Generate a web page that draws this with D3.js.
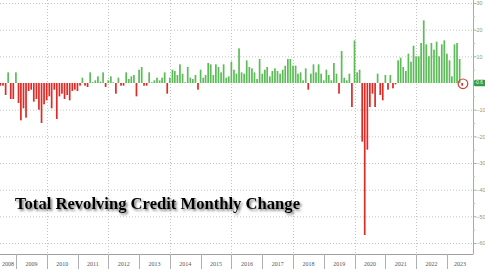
<!DOCTYPE html>
<html>
<head>
<meta charset="utf-8">
<script src="https://cdn.jsdelivr.net/npm/d3@7"></script>
<style>
html,body{margin:0;padding:0;background:#fff;}
svg{display:block;}
</style>
</head>
<body>
<svg id="chart" width="485" height="269"></svg>
<script>
// Monthly change in total revolving credit ($B), Jun 2008 - Jun 2023
const firstMonth = [2008, 5]; // June 2008 (month index 5)
const v2008 = [-1, -1, -4.5, 4, -6, -6, 4];
const v2009 = [-7.5, -14, -9.5, -13, -3, -2.5, -7, -6, -10, -15, -8, -6.5];
const v2010 = [-5, -9.5, -2.5, -13.5, -5, -4, -6, -4.5, -6.5, -3, -2.5, -3];
const v2011 = [-1, 2, -1, -1.5, 4, 0.3, 1, 2.5, 0.5, 4, -1.5, 1];
const v2012 = [2.5, 0.3, -4, 2, -1, -1, 4, 1.5, 2.5, 3, -5, 5];
const v2013 = [6, -1, -1, 4, 0.3, 1, 2, 1, 2, 4, -4, 2];
const v2014 = [5, 4.5, 3, 7, 3.5, 0.3, 6, 2, 1.5, 3, -2.5, 5];
const v2015 = [2, 3, 7.5, 7, 3, 7, 6, 4, 7, 2, 2.5, 8];
const v2016 = [5, 3.5, 13, 4, 3.5, 8.5, 6, 5.5, 4, 1.5, 9, 3.5];
const v2017 = [5, 6, 2.5, 4.5, 5.5, 4.5, 3.5, 5, 6.5, 9, 9, 6.5];
const v2018 = [6.5, 3.5, 4, 1, 5.5, -2.5, 3.5, 7, 4, 7, 3.5, 1];
const v2019 = [5, 3, 1, 7.5, 3.5, -4, 12, 2, 1, 3.5, -9, 16];
const v2020 = [4, 5, -22, -57, -25, -9, -4, -9, 3.5, -4.5, -6.5, 3];
const v2021 = [-2.5, 3, -2, -0.5, 8.5, 9.5, 6, 4.5, 11, 8, 14, 10];
const v2022 = [10, 15, 23.5, 14.5, 10, 15, 12.5, 15.5, 10, 14.5, 16, 11];
const v2023 = [8.5, 2.5, 14.5, 15, 9, -1];
const yearLabels = ["2008","2009","2010","2011","2012","2013","2014","2015","2016","2017","2018","2019","2020","2021","2022","2023"];
const yTicks = [30, 20, 10, -10, -20, -30, -40, -50, -60];
const lastLabel = "-0.6";
const title = "Total Revolving Credit Monthly Change";

const values = [].concat(v2008, v2009, v2010, v2011, v2012, v2013, v2014, v2015,
  v2016, v2017, v2018, v2019, v2020, v2021, v2022, v2023);
// month-end dates
const data = values.map((v, i) => ({
  date: new Date(firstMonth[0], firstMonth[1] + i + 1, 0),
  value: v
}));

const W = 485, H = 269;
const plotRight = 473, axisY = 254;
const svg = d3.select("#chart");

const x = d3.scaleTime()
  .domain([new Date(2009, 0, 1), new Date(2023, 0, 1)])
  .range([16, 447]);
const y = d3.scaleLinear().domain([-60, 30]).range([243, 3]);

const defs = svg.append("defs");
const f = defs.append("filter").attr("id", "shadow")
  .attr("x", "-5%").attr("y", "-30%").attr("width", "110%").attr("height", "160%");
f.append("feDropShadow").attr("dx", 1.6).attr("dy", 1.8)
  .attr("stdDeviation", 1.1).attr("flood-color", "#444").attr("flood-opacity", 0.75);

// horizontal grid
svg.append("g").selectAll("line").data(yTicks).join("line")
  .attr("x1", 0).attr("x2", plotRight)
  .attr("y1", d => y(d) + 0.5).attr("y2", d => y(d) + 0.5)
  .attr("stroke", "#c4c4c4").attr("stroke-width", 1)
  .attr("stroke-dasharray", "1,2");

// vertical grid (every other year)
const gridYears = d3.range(2010, 2023, 2);
svg.append("g").selectAll("line").data(gridYears).join("line")
  .attr("x1", d => Math.round(x(new Date(d, 0, 1))) + 0.5)
  .attr("x2", d => Math.round(x(new Date(d, 0, 1))) + 0.5)
  .attr("y1", 0).attr("y2", axisY)
  .attr("stroke", "#c4c4c4").attr("stroke-width", 1)
  .attr("stroke-dasharray", "1,2");

// bars
const bw = 1.7;
svg.append("g").selectAll("rect").data(data).join("rect")
  .attr("x", d => x(d.date) - bw / 2)
  .attr("width", bw)
  .attr("y", d => Math.min(y(d.value), y(0)))
  .attr("height", d => Math.max(0.6, Math.abs(y(d.value) - y(0))))
  .attr("fill", d => d.value >= 0 ? "#5cbc58" : "#df2a26");

// highlight circle around last bar
const last = data[data.length - 1];
svg.append("circle")
  .attr("cx", x(last.date) + 0.8).attr("cy", y(0) + 0.8).attr("r", 4.8)
  .attr("fill", "none").attr("stroke", "#d04040").attr("stroke-width", 1.2);

// right axis
const yAxis = d3.axisRight(y).tickValues(yTicks).tickSize(3).tickFormat(d3.format("d"));
const ga = svg.append("g").attr("transform", `translate(${plotRight + 0.5},0)`).call(yAxis);
ga.select(".domain").attr("stroke", "#86c486").attr("d", `M0,0V${axisY}`);
ga.selectAll(".tick line").attr("stroke", "#86c486");
ga.selectAll(".tick text").attr("x", 3).attr("fill", "#8a9a8a")
  .style("font-family", "Liberation Sans, Arial, sans-serif").style("font-size", "5.3px");
// minor ticks
svg.append("g").selectAll("line").data(d3.range(-55, 30, 10)).join("line")
  .attr("x1", plotRight).attr("x2", plotRight + 2)
  .attr("y1", d => y(d) + 0.5).attr("y2", d => y(d) + 0.5)
  .attr("stroke", "#a6d4a6");

// last value label box
svg.append("rect").attr("x", plotRight + 1).attr("y", y(0) - 3.2)
  .attr("width", 11.5).attr("height", 6.4).attr("rx", 1.5).attr("fill", "#2f9e40");
svg.append("text").attr("x", plotRight + 1.8).attr("y", y(0) + 0.2)
  .attr("dominant-baseline", "middle").attr("fill", "#fff")
  .style("font-family", "Liberation Sans, Arial, sans-serif").style("font-size", "4.6px")
  .text(lastLabel);

// bottom axis
svg.append("line").attr("x1", 0).attr("x2", plotRight + 0.5)
  .attr("y1", axisY + 0.5).attr("y2", axisY + 0.5)
  .attr("stroke", "#a0a0a0");
const sepYears = d3.range(2009, 2024);
svg.append("g").selectAll("line").data(sepYears).join("line")
  .attr("x1", d => Math.round(x(new Date(d, 0, 1))) + 0.5)
  .attr("x2", d => Math.round(x(new Date(d, 0, 1))) + 0.5)
  .attr("y1", axisY).attr("y2", H)
  .attr("stroke", "#b0b0b0");
svg.append("g").selectAll("text").data(yearLabels).join("text")
  .attr("x", d => {
    const yr = +d;
    const a = Math.max(0, x(new Date(yr, 0, 1)));
    const b = Math.min(plotRight, x(new Date(yr + 1, 0, 1)));
    return (a + b) / 2;
  })
  .attr("y", 266)
  .attr("text-anchor", "middle").attr("fill", "#555")
  .style("font-family", "Liberation Serif, Times New Roman, serif").style("font-size", "6px")
  .text(d => d);

// title
svg.append("text").attr("x", 15).attr("y", 209)
  .attr("textLength", 285).attr("lengthAdjust", "spacingAndGlyphs")
  .attr("fill", "#000").attr("filter", "url(#shadow)")
  .style("font-family", "Liberation Serif, Times New Roman, serif")
  .style("font-weight", "bold").style("font-size", "17px")
  .text(title);
</script>
</body>
</html>
